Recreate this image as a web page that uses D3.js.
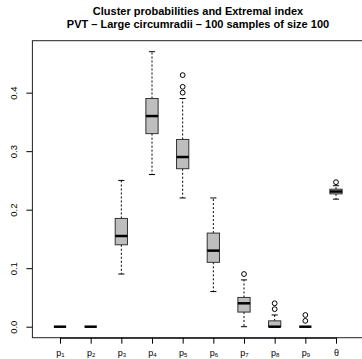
<!DOCTYPE html>
<html><head><meta charset="utf-8">
<script src="https://cdn.jsdelivr.net/npm/d3@7"></script>
<style>body{margin:0;background:#fff}svg{display:block}text{font-family:"Liberation Sans",Arial,sans-serif}</style>
</head><body>
<script>
const categories = ["p1","p2","p3","p4","p5","p6","p7","p8","p9","θ"];
const catBase = ["p","p","p","p","p","p","p","p","p","θ"];
const catSub = ["1","2","3","4","5","6","7","8","9",""];
const whiskerLow = [0,0,0.09,0.26,0.22,0.06,0,0,0,0.218];
const q1 = [0,0,0.14,0.33,0.27,0.11,0.025,0,0,0.227];
const median = [0,0,0.155,0.36,0.29,0.13,0.04,0,0,0.231];
const q3 = [0,0,0.185,0.39,0.32,0.16,0.05,0.01,0,0.235];
const whiskerHigh = [0,0,0.25,0.47,0.39,0.22,0.08,0.02,0,0.241];
const outliers = [[],[],[],[],[0.40,0.41,0.43],[],[0.09],[0.03,0.04],[0.01,0.02],[0.247]];
const yTicks = [0,0.1,0.2,0.3,0.4];
const title1 = "Cluster probabilities and Extremal index";
const title2 = "PVT – Large circumradii – 100 samples of size 100";

const W = 362, H = 359;
const svg = d3.select("body").append("svg").attr("width", W).attr("height", H);
const x = d3.scaleLinear().domain([0.1, 10.9]).range([32.4, 363.6]);
const y = d3.scaleLinear().domain([-0.0188, 0.4888]).range([337.7, 40.7]);
const bw = x(1.4) - x(1);
const sw = bw / 2;

const g = svg.append("g");
categories.forEach((c, i) => {
  const cx = x(i + 1);
  const gg = g.append("g");
  if (whiskerHigh[i] > q3[i]) {
    gg.append("line").attr("x1", cx).attr("x2", cx).attr("y1", y(q3[i])).attr("y2", y(whiskerHigh[i]))
      .attr("stroke", "#000").attr("stroke-width", 1).attr("stroke-dasharray", "2,2");
  }
  if (whiskerLow[i] < q1[i]) {
    gg.append("line").attr("x1", cx).attr("x2", cx).attr("y1", y(q1[i])).attr("y2", y(whiskerLow[i]))
      .attr("stroke", "#000").attr("stroke-width", 1).attr("stroke-dasharray", "2,2");
  }
  [whiskerLow[i], whiskerHigh[i]].forEach(v => {
    gg.append("line").attr("x1", cx - sw / 2).attr("x2", cx + sw / 2).attr("y1", y(v)).attr("y2", y(v))
      .attr("stroke", "#000").attr("stroke-width", 1);
  });
  gg.append("rect").attr("x", cx - bw / 2).attr("width", bw)
    .attr("y", y(q3[i])).attr("height", Math.max(0, y(q1[i]) - y(q3[i])))
    .attr("fill", "#bebebe").attr("stroke", "#333").attr("stroke-width", 1);
  gg.append("line").attr("x1", cx - bw / 2).attr("x2", cx + bw / 2).attr("y1", y(median[i])).attr("y2", y(median[i]))
    .attr("stroke", "#000").attr("stroke-width", 2.5);
  outliers[i].forEach(v => {
    gg.append("circle").attr("cx", cx).attr("cy", y(v)).attr("r", 2.4)
      .attr("fill", "none").attr("stroke", "#000").attr("stroke-width", 1);
  });
});

svg.append("rect").attr("x", x(0.1)).attr("y", y(0.4888)).attr("width", x(10.9) - x(0.1)).attr("height", y(-0.0188) - y(0.4888))
  .attr("fill", "none").attr("stroke", "#222").attr("stroke-width", 1);

const yAxis = d3.axisLeft(y).tickValues(yTicks).tickFormat(d3.format(".1f")).tickSize(6).tickPadding(0);
const ya = svg.append("g").attr("transform", `translate(${x(0.1)},0)`).call(yAxis);
ya.select(".domain").remove();
ya.selectAll(".tick line").attr("stroke", "#000");
ya.selectAll(".tick text").attr("font-size", 9.5).attr("fill", "#000")
  .attr("text-anchor", "middle").attr("dy", 0)
  .attr("transform", "translate(-15,0) rotate(-90)").attr("x", 0).attr("y", 0);

const xAxis = d3.axisBottom(x).tickValues(d3.range(1, 11)).tickFormat("").tickSize(6);
const xa = svg.append("g").attr("transform", `translate(0,${y(-0.0188)})`).call(xAxis);
xa.select(".domain").attr("d", `M${x(1)},0.5H${x(10)}`).attr("stroke", "#000");
xa.selectAll(".tick line").attr("stroke", "#000");
xa.selectAll(".tick").each(function(d, j) {
  const t = d3.select(this).append("text").attr("y", 18).attr("fill", "#000")
    .attr("font-size", 9).attr("text-anchor", "middle");
  t.append("tspan").text(catBase[j]);
  if (catSub[j]) t.append("tspan").attr("font-size", 6).attr("dy", 1.5).text(catSub[j]);
});

const tc = (x(0.1) + x(10.9)) / 2;
svg.append("text").attr("x", tc).attr("y", 15).attr("text-anchor", "middle")
  .attr("font-weight", "bold").attr("font-size", 11).text(title1);
svg.append("text").attr("x", tc).attr("y", 28.3).attr("text-anchor", "middle")
  .attr("font-weight", "bold").attr("font-size", 11).text(title2);
</script>
</body></html>
